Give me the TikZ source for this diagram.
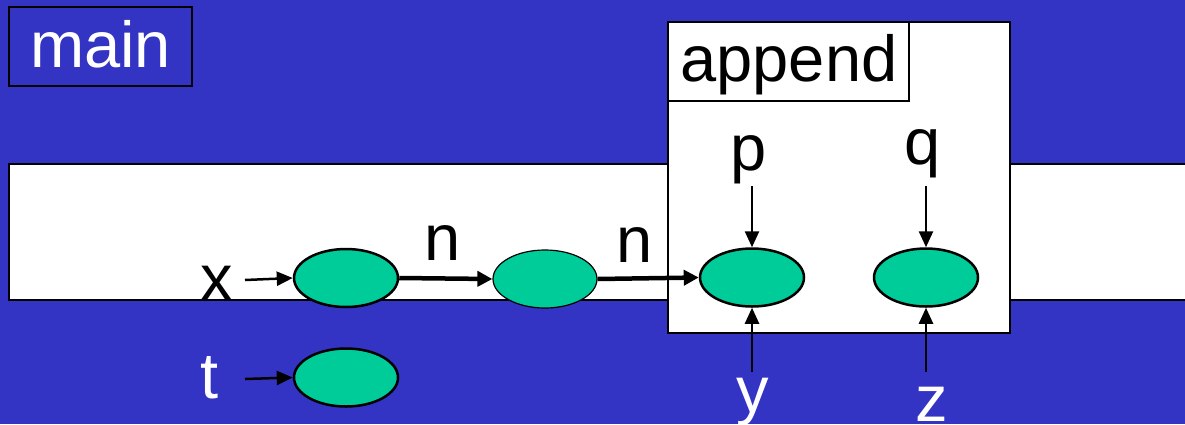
\documentclass[tikz,border=0pt]{standalone}
\usepackage{fontspec}
\setmainfont{Liberation Sans}
\usetikzlibrary{shapes.geometric,arrows.meta}
\definecolor{bg}{RGB}{51,51,196}
\definecolor{cell}{RGB}{0,204,153}
\begin{document}
\begin{tikzpicture}[x=1pt,y=-1pt,
  cellnode/.style={ellipse,draw=black,line width=2.5pt,fill=cell,minimum width=104pt,minimum height=58pt,inner sep=0pt},
  lbl/.style={font=\fontsize{65}{65}\selectfont,inner sep=0pt,anchor=base},
  boxnode/.style={rectangle,draw=black,inner sep=0pt,line width=2pt},
  thinarrow/.style={line width=2.5pt,-{Triangle[length=16pt,width=14pt]}},
  thickarrow/.style={line width=4.5pt,-{Triangle[length=15pt,width=15pt]}}]
\useasboundingbox (0,0) rectangle (1185,424);
\fill[bg] (0,0) rectangle (1185,424);
% main frame band
\path[fill=white] (9,164) rectangle (1185,300);
\draw[line width=2pt] (1185,164) -- (9,164) -- (9,300) -- (1185,300);
% main label box
\node[boxnode,fill=bg,line width=2.5pt,minimum width=183pt,minimum height=79pt] (mainbox) at (100.5,46.5) {};
\node[lbl,text=white] (maintxt) at (100.5,67) {main};
% append frame
\node[boxnode,fill=white,minimum width=342pt,minimum height=311pt] (appbox) at (839,177.5) {};
\node[boxnode,fill=white,minimum width=241pt,minimum height=79pt] (applbl) at (788.5,61.5) {};
\node[lbl] (apptxt) at (789,81) {append};
% cells
\node[cellnode] (e1) at (346,278) {};
\node[cellnode,line width=1.2pt] (e2) at (545,279) {};
\node[cellnode] (e3) at (752,277.5) {};
\node[cellnode] (e4) at (926,277.5) {};
\node[cellnode] (e5) at (346,377.5) {};
% labels
\node[lbl] (xl) at (217,300) {x};
\node[lbl,text=white] (tl) at (210,398) {t};
\node[lbl] (n1) at (443,260) {n};
\node[lbl] (n2) at (635,262) {n};
\node[lbl] (pl) at (749,170) {p};
\node[lbl] (ql) at (923,164) {q};
\node[lbl,text=white] (yl) at (753,412) {y};
\node[lbl,text=white] (zl) at (932,421) {z};
% free ends
\coordinate (xs) at (245,280);
\coordinate (ts) at (245,379);
\coordinate (ps) at (752,186);
\coordinate (qs) at (926,186);
\coordinate (ys) at (752,372);
\coordinate (zs) at (926,372);
% connectors
\draw[thinarrow] (xs) -- (e1.west);
\draw[thinarrow] (ts) -- (e5.west);
\draw[thickarrow] (e1.east) -- (e2.west);
\draw[thickarrow] (e2.east) -- (e3.west);
\draw[thinarrow] (ps) -- (e3.north);
\draw[thinarrow] (qs) -- (e4.north);
\draw[thinarrow] (ys) -- (e3.south);
\draw[thinarrow] (zs) -- (e4.south);
\end{tikzpicture}
\end{document}
